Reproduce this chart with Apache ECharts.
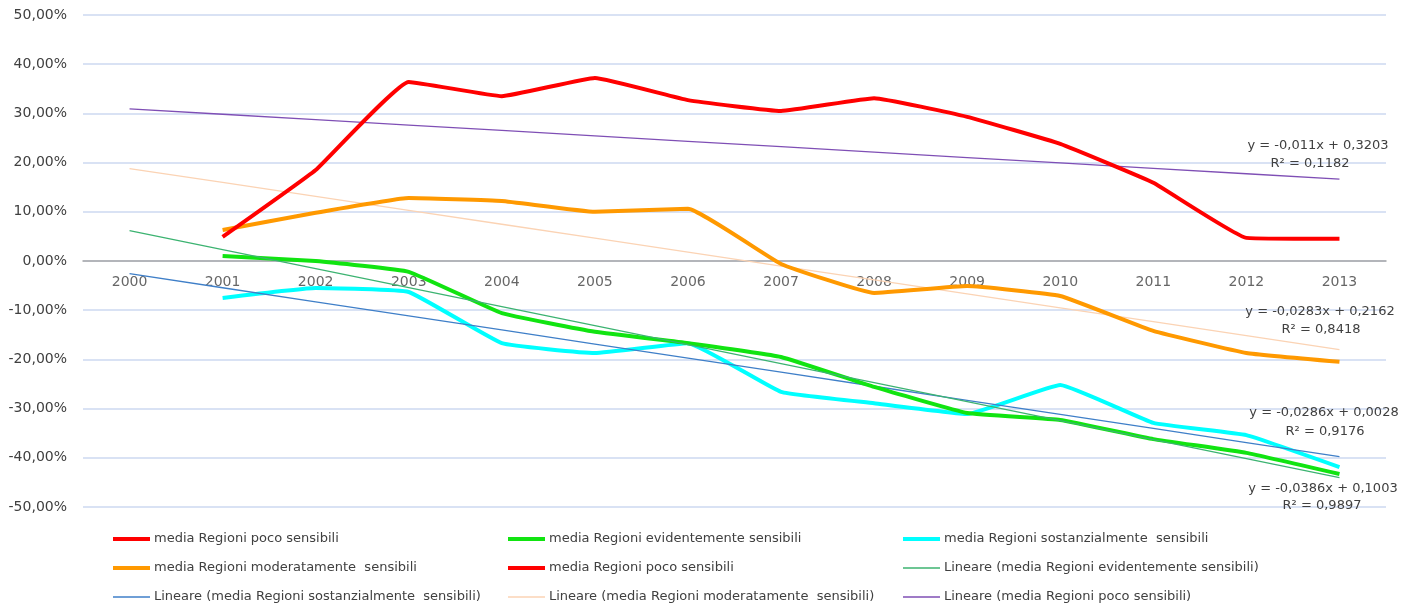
<!DOCTYPE html>
<html><head><meta charset="utf-8">
<script src="https://cdn.jsdelivr.net/npm/echarts@6/dist/echarts.min.js"></script>
<style>html,body{margin:0;padding:0;background:#fff}#c{width:1401px;height:603px}</style>
</head><body><div id="c"></div>
<script>
const years = ['2000','2001','2002','2003','2004','2005','2006','2007','2008','2009','2010','2011','2012','2013'];
const yTicks = [-50,-40,-30,-20,-10,0,10,20,30,40,50];
// values in percent
const pocoSensibili = [null,4.9,18.5,36.4,33.5,37.2,32.7,30.5,33.1,29.3,23.8,15.9,4.7,4.5];
const moderatamente = [null,6.3,9.8,12.8,12.2,10.0,10.6,-0.6,-6.5,-5.1,-7.1,-14.2,-18.7,-20.5];
const evidentemente = [null,1.0,0.0,-2.2,-10.6,-14.4,-16.7,-19.5,-25.6,-30.9,-32.3,-36.2,-39.0,-43.3];
const sostanzialmente = [null,-7.5,-5.5,-6.3,-16.7,-18.7,-16.7,-26.6,-28.9,-31.1,-25.2,-32.9,-35.4,-41.9];
// trendline coefficients as printed on the chart (x = 1 for 2000)
const trendNames = ['Lineare (media Regioni evidentemente sensibili)','Lineare (media Regioni sostanzialmente  sensibili)','Lineare (media Regioni moderatamente  sensibili)','Lineare (media Regioni poco sensibili)'];
const trendSlope = [-0.0386,-0.0286,-0.0283,-0.011];
const trendIntercept = [0.1003,0.0028,0.2162,0.3203];
const trendEq = ['y = -0,0386x + 0,1003','y = -0,0286x + 0,0028','y = -0,0283x + 0,2162','y = -0,011x + 0,3203'];
const trendR2 = ['R² = 0,9897','R² = 0,9176','R² = 0,8418','R² = 0,1182'];

const FONT = 'DejaVu Sans';
const TXT = '#404040';
function trend(i){ return years.map((y,k)=> +(((trendSlope[i]*(k+1))+trendIntercept[i])*100).toFixed(3)); }

const chart = echarts.init(document.getElementById('c'));
const thick = (name,data,color,z)=>({name,type:'line',data,symbol:'none',smooth:0.1,z,
  lineStyle:{color,width:4},itemStyle:{color}});
const thin = (name,data,color,z)=>({name,type:'line',data,symbol:'none',z,
  lineStyle:{color,width:1.3},itemStyle:{color}});

// [name, left, rowCenterY, lineThickness]
const legendCells = [
  ['media Regioni poco sensibili',113,538,4],
  ['media Regioni evidentemente sensibili',508,538,4],
  ['media Regioni sostanzialmente  sensibili',903,538,4],
  ['media Regioni moderatamente  sensibili',113,567,4],
  ['media Regioni poco sensibili',508,567,4],
  [trendNames[0],903,567,1.5],
  [trendNames[1],113,596,1.5],
  [trendNames[2],508,596,1.5],
  [trendNames[3],903,596,1.5]
];

function eqText(x,y,t){ return {type:'text',x:x,y:y,z:100,style:{text:t,fill:TXT,font:'13px '+FONT,align:'center',verticalAlign:'middle'}}; }

chart.setOption({
  animation:false,
  backgroundColor:'#fff',
  grid:{left:83,right:15,top:15,bottom:96},
  legend: legendCells.map(c=>({data:[{name:c[0],icon:'rect'}],left:c[1],top:c[2]-7,itemWidth:37,itemHeight:c[3],itemGap:0,padding:0,
    height:16,
    textStyle:{fontFamily:FONT,fontSize:13,color:TXT,padding:[0,0,0,-1],lineHeight:16}})),
  xAxis:{type:'category',data:years,boundaryGap:true,
    axisLine:{onZero:true,lineStyle:{color:'#a6a6a6',width:1.5}},
    axisTick:{show:false},
    axisLabel:{show:false}},
  yAxis:{type:'value',min:-50,max:50,interval:10,
    axisLine:{show:false},axisTick:{show:false},
    axisLabel:{color:TXT,fontFamily:FONT,fontSize:14,margin:16,formatter:v=>v.toFixed(2).replace('.',',')+'%'},
    splitLine:{lineStyle:{color:'#cdd9f0',width:1.5}}},
  series:[
    {name:'_xlabels',type:'scatter',data:years.map(y=>[y,0]),symbol:'circle',symbolSize:2,
      itemStyle:{color:'rgba(0,0,0,0)'},silent:true,z:1,labelLayout:{hideOverlap:false},
      label:{show:true,position:'bottom',distance:13,formatter:p=>p.value[0],color:TXT,fontFamily:FONT,fontSize:14}},
    thin(trendNames[3],trend(3),'#7f4fb5',2),
    thin(trendNames[2],trend(2),'#fbd3b4',2),
    thick('media Regioni moderatamente  sensibili',moderatamente,'#ff9900',3),
    thick('media Regioni sostanzialmente  sensibili',sostanzialmente,'#00ffff',3),
    thin(trendNames[1],trend(1),'#3f7fc8',4),
    thick('media Regioni evidentemente sensibili',evidentemente,'#11e411',5),
    thin(trendNames[0],trend(0),'#3cb371',6),
    thick('media Regioni poco sensibili',pocoSensibili,'#ff0000',7)
  ],
  graphic:[
    eqText(1318,146,trendEq[3]), eqText(1310,164,trendR2[3]),
    eqText(1320,312,trendEq[2]), eqText(1321,330,trendR2[2]),
    eqText(1324,413,trendEq[1]), eqText(1325,432,trendR2[1]),
    eqText(1323,489,trendEq[0]), eqText(1322,506,trendR2[0])
  ]
});
</script></body></html>
